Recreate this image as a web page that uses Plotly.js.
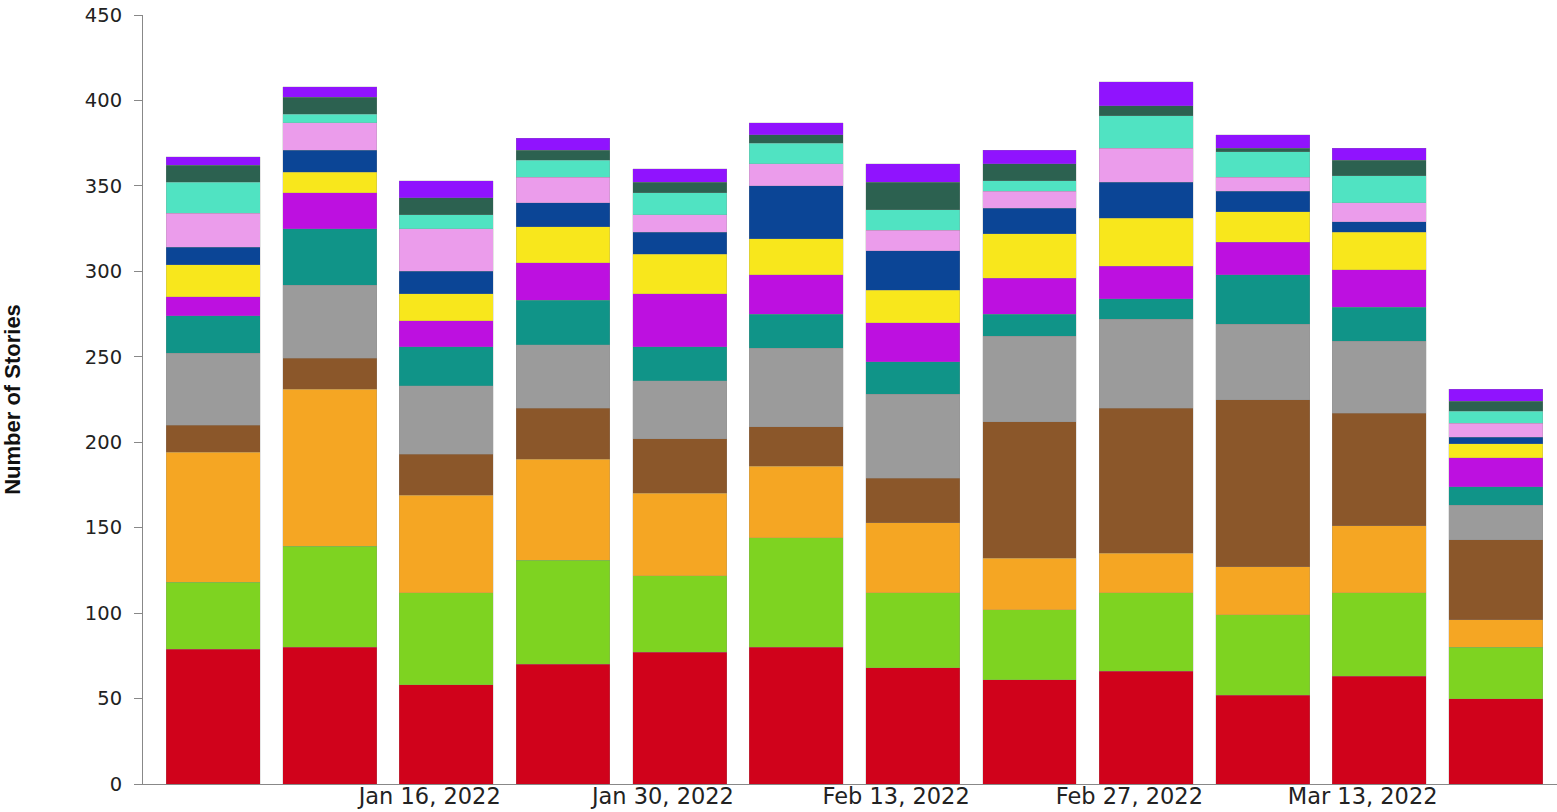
<!DOCTYPE html>
<html>
<head>
<meta charset="utf-8">
<script src="https://cdn.plot.ly/plotly-3.0.1.min.js"></script>
<style>
  html, body { margin: 0; padding: 0; background: #ffffff; }
  #chart { width: 1557px; height: 812px; }
</style>
</head>
<body>
<div id="chart"></div>
<script>
// Weekly bars (week start dates)
const weeks = ["2022-01-03","2022-01-10","2022-01-17","2022-01-24","2022-01-31","2022-02-07",
               "2022-02-14","2022-02-21","2022-02-28","2022-03-07","2022-03-14","2022-03-21"];

// Stacked series, bottom to top
const seriesNames = ["Series 1","Series 2","Series 3","Series 4","Series 5","Series 6","Series 7",
                     "Series 8","Series 9","Series 10","Series 11","Series 12","Series 13"];
const s1  = [79, 80, 58, 70, 77, 80, 68, 61, 66, 52, 63, 50];
const s2  = [39, 59, 54, 61, 45, 64, 44, 41, 46, 47, 49, 30];
const s3  = [76, 92, 57, 59, 48, 42, 41, 30, 23, 28, 39, 16];
const s4  = [16, 18, 24, 30, 32, 23, 26, 80, 85, 98, 66, 47];
const s5  = [42, 43, 40, 37, 34, 46, 49, 50, 52, 44, 42, 20];
const s6  = [22, 33, 23, 26, 20, 20, 19, 13, 12, 29, 20, 11];
const s7  = [11, 21, 15, 22, 31, 23, 23, 21, 19, 19, 22, 17];
const s8  = [19, 12, 16, 21, 23, 21, 19, 26, 28, 18, 22,  8];
const s9  = [10, 13, 13, 14, 13, 31, 23, 15, 21, 12,  6,  4];
const s10 = [20, 16, 25, 15, 10, 13, 12, 10, 20,  8, 11,  8];
const s11 = [18,  5,  8, 10, 13, 12, 12,  6, 19, 15, 16,  7];
const s12 = [10, 10, 10,  6,  6,  5, 16, 10,  6,  2,  9,  6];
const s13 = [ 5,  6, 10,  7,  8,  7, 11,  8, 14,  8,  7,  7];

const colors = ["#d0021b","#7ed321","#f5a623","#8b572a","#9b9b9b","#109488","#bd10e0",
                "#f8e71c","#0b4596","#eb9ceb","#50e3c2","#2c6150","#9013fe"];

// Axis ticks
const tickDates = ["2022-01-16","2022-01-30","2022-02-13","2022-02-27","2022-03-13"];
const yTicks = [0, 50, 100, 150, 200, 250, 300, 350, 400, 450];

const allSeries = [s1,s2,s3,s4,s5,s6,s7,s8,s9,s10,s11,s12,s13];
const traces = allSeries.map((vals, i) => ({
  type: "bar",
  x: weeks,
  y: vals,
  name: seriesNames[i],
  marker: { color: colors[i], line: { width: 0.5, color: "rgba(140,140,140,0.45)" } },
  hoverinfo: "x+y+name"
}));

const layout = {
  width: 1557,
  height: 812,
  barmode: "stack",
  bargap: 0.195,
  showlegend: false,
  paper_bgcolor: "#ffffff",
  plot_bgcolor: "#ffffff",
  margin: { l: 143, r: 0, t: 15, b: 28 },
  font: { family: "DejaVu Sans, sans-serif", color: "#222222" },
  xaxis: {
    type: "date",
    range: ["2021-12-29 19:00", "2022-03-24 16:00"],
    tickvals: tickDates,
    tickformat: "%b %d, %Y",
    ticks: "",
    showgrid: false,
    zeroline: false,
    showline: true,
    linecolor: "#888888",
    linewidth: 1,
    tickfont: { family: "DejaVu Sans, sans-serif", size: 22.5, color: "#222222" },
    ticklabelstandoff: -8
  },
  yaxis: {
    range: [0, 450],
    tickvals: yTicks,
    ticks: "outside",
    ticklen: 8,
    tickcolor: "#888888",
    showgrid: false,
    zeroline: false,
    showline: true,
    linecolor: "#888888",
    linewidth: 1,
    tickfont: { family: "DejaVu Sans, sans-serif", size: 19.5, color: "#222222" },
    ticklabelstandoff: 8,
    title: {
      text: "Number of Stories",
      font: { family: "Liberation Sans, Arial, sans-serif", size: 22, color: "#111111", weight: "bold" },
      standoff: 58
    }
  }
};

Plotly.newPlot("chart", traces, layout, { displayModeBar: false, staticPlot: false });
</script>
</body>
</html>
